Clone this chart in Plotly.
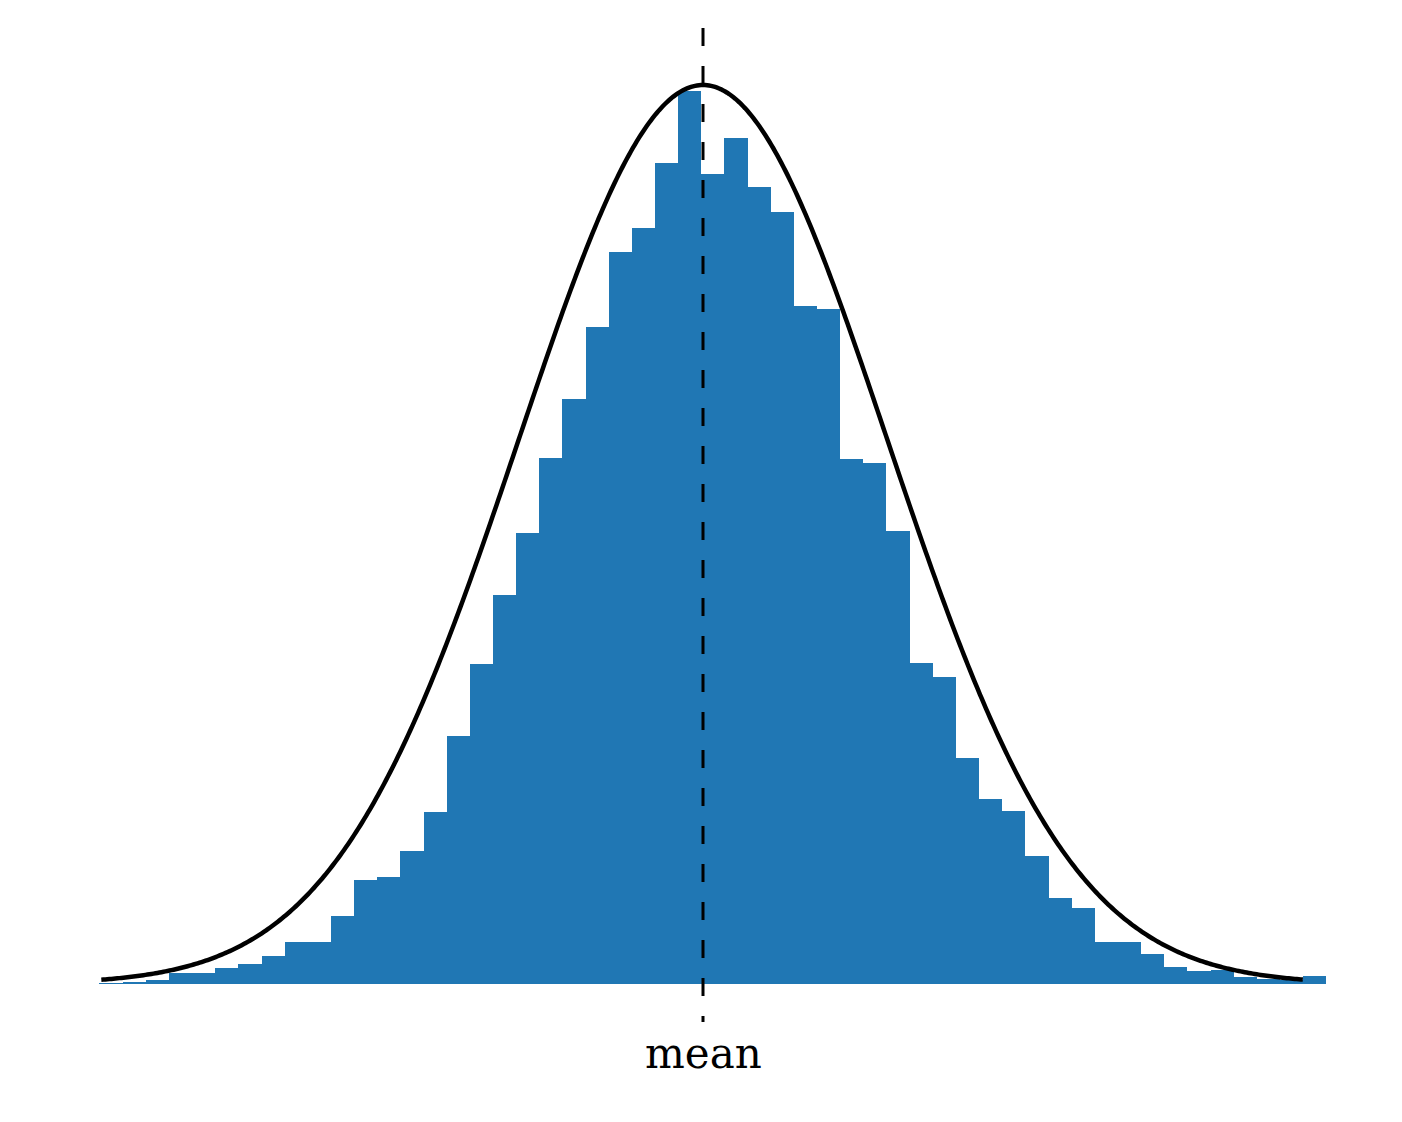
import numpy as np
import plotly.graph_objects as go

# histogram counts (pixel-height units), left to right
counts = [1, 2, 4, 11, 11, 16, 20, 28, 42, 42, 68, 104, 107, 133, 172, 248,
          320, 389, 451, 526, 585, 657, 732, 756, 821, 893,
          810, 846, 797, 772, 678, 675, 525, 521, 453, 321, 307, 226, 185,
          173, 128, 86, 76, 42, 42, 30, 17, 13, 14, 7, 5, 4, 8]
bin_start = -3.28
bin_width = 0.1258
mean = 0.0
sd = 1.0
curve_peak = 899
curve_lo, curve_hi = -3.27, 3.26
label = "mean"

centers = [bin_start + bin_width * (i + 0.5) for i in range(len(counts))]

xs = np.linspace(curve_lo, curve_hi, 600)
ys = curve_peak * np.exp(-0.5 * ((xs - mean) / sd) ** 2)

fig = go.Figure()

fig.add_trace(go.Bar(x=centers, y=counts, width=bin_width,
                     marker=dict(color="#2077b4", line=dict(width=0)),
                     hoverinfo="skip"))

fig.add_trace(go.Scatter(x=xs, y=ys, mode="lines",
                         line=dict(color="black", width=4.5, simplify=False),
                         hoverinfo="skip"))

# dashed mean line
fig.add_trace(go.Scatter(x=[mean, mean], y=[956, -38], mode="lines",
                         line=dict(color="black", width=3, dash="18px,20px"),
                         hoverinfo="skip"))

fig.add_annotation(x=mean, y=-69, text=label, showarrow=False,
                   font=dict(family="DejaVu Serif", size=42, color="black"),
                   xanchor="center", yanchor="middle")

fig.update_layout(
    width=1402, height=1122,
    margin=dict(l=0, r=0, t=0, b=0),
    paper_bgcolor="white", plot_bgcolor="white",
    showlegend=False, bargap=0,
    xaxis=dict(range=[-695 / 184, (1402 - 695) / 184], visible=False),
    yaxis=dict(range=[-146, 976], visible=False),
)

fig.write_html("out.html")
